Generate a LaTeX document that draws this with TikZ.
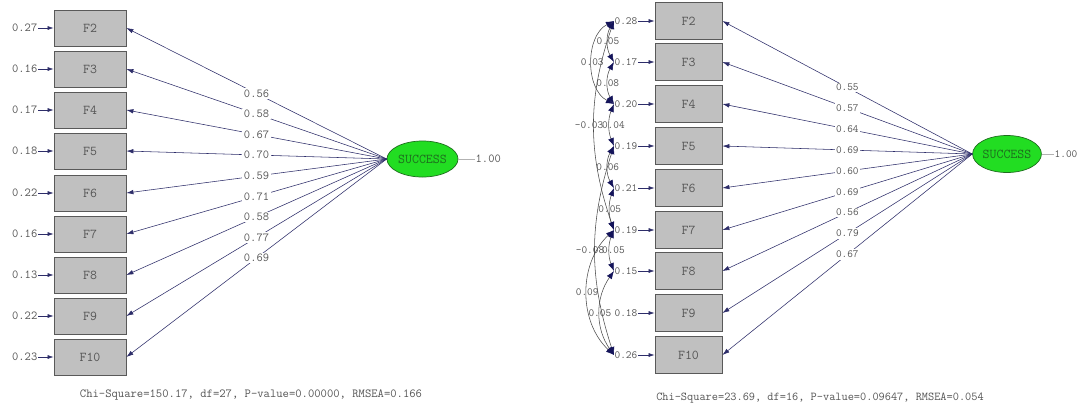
\documentclass[tikz,border=0pt]{standalone}
\usetikzlibrary{shapes.geometric,arrows.meta}
\definecolor{ln}{RGB}{45,45,105}
\definecolor{hd}{RGB}{20,20,90}
\definecolor{tx}{RGB}{85,85,85}
\definecolor{bx}{RGB}{192,192,192}
\definecolor{gr}{RGB}{34,221,34}
\definecolor{grd}{RGB}{30,110,30}
\tikzset{
 obs/.style={draw=black!65, line width=0.8pt, fill=bx, minimum width=72pt, minimum height=36pt, inner sep=0pt, font=\ttfamily\fontsize{13.5}{13.5}\selectfont, text=tx},
 obsr/.style={obs, minimum width=67pt, minimum height=37pt},
 lat/.style={ellipse, draw=grd, line width=0.7pt, fill=gr, minimum width=71pt, minimum height=36pt, inner sep=0pt, font=\ttfamily\fontsize{13.5}{13.5}\selectfont, text=grd},
 num/.style={font=\ttfamily\fontsize{12.2}{12.2}\selectfont, text=tx, inner sep=0.5pt},
 numr/.style={font=\ttfamily\fontsize{11}{11}\selectfont, text=tx, inner sep=0.5pt},
 lbl/.style={num, fill=white, inner sep=1.5pt},
 lblr/.style={numr, fill=white, inner sep=1.5pt},
 clbl/.style={numr, inner sep=0pt},
 load/.style={draw=ln, line width=0.55pt, -{Latex[length=7pt,width=4.5pt]}, color=ln},
 res/.style={draw=ln, line width=0.6pt, -{Latex[length=6pt,width=4pt]}, color=ln},
 cov/.style={draw=black!70, line width=0.55pt, {Latex[length=8pt,width=6pt,color=hd]}-{Latex[length=8pt,width=6pt,color=hd]}},
 var/.style={draw=black!30, line width=0.6pt},
 foot/.style={font=\ttfamily\fontsize{12.3}{12.3}\selectfont, text=tx, inner sep=0pt},
 footr/.style={font=\ttfamily\fontsize{12}{12}\selectfont, text=tx, inner sep=0pt},
}
\begin{document}
\begin{tikzpicture}[x=1pt,y=-1pt]
\useasboundingbox[fill=white] (0,0) rectangle (1078,408);

% ---------------- left model ----------------
\foreach \i/\y/\r in {2/28/0.27,3/69/0.16,4/110/0.17,5/151/0.18,6/193/0.22,7/234/0.16,8/275/0.13,9/316/0.22,10/357/0.23}{
  \node[obs] (a\i) at (90,\y) {F\i};
  \node[num, anchor=east] (ra\i) at (38,\y) {\r};
  \draw[res] (ra\i) -- (a\i);
}
\node[lat] (s1) at (422.5,159) {SUCCESS};
\node[num, anchor=west] (v1) at (475,159) {1.00};
\draw[var] (s1) -- (v1);
\foreach \i/\l in {2/0.56,3/0.58,4/0.67,5/0.70,6/0.59,7/0.71,8/0.58,9/0.77,10/0.69}{
  \draw[load] (s1.west) -- node[lbl]{\l} (a\i.east);
}
\node[foot] (c1) at (251,395) {Chi-Square=150.17, df=27, P-value=0.00000, RMSEA=0.166};

% ---------------- right model ----------------
\foreach \i/\y/\r in {2/21/0.28,3/62/0.17,4/104/0.20,5/146/0.19,6/188/0.21,7/230/0.19,8/271/0.15,9/313/0.18,10/355/0.26}{
  \node[obsr] (b\i) at (688.5,\y) {F\i};
  \node[numr, anchor=east] (rb\i) at (638,\y) {\r};
  \draw[res] (rb\i) -- (b\i);
}
\node[lat, minimum width=68pt, minimum height=37pt] (s2) at (1007,154) {SUCCESS};
\node[numr, anchor=west] (v2) at (1054,154) {1.00};
\draw[var] (s2) -- (v2);
\foreach \i/\l in {2/0.55,3/0.57,4/0.64,5/0.69,6/0.60,7/0.69,8/0.56,9/0.79,10/0.67}{
  \draw[load] (s2.west) -- node[lblr]{\l} (b\i.east);
}
% error covariances
\draw[cov] (rb2.west) to[bend right=30] node[clbl]{0.05} (rb3.west);
\draw[cov] (rb2.west) to[bend right=63] node[clbl]{0.03} (rb4.west);
\draw[cov] (rb3.west) to[bend right=30] node[clbl]{0.08} (rb4.west);
\draw[cov] (rb2.west) to[bend right=19] node[clbl, xshift=-5pt]{-0.03} (rb7.west);
\draw[cov] (rb4.west) to[bend right=22] node[clbl, xshift=4pt]{0.04} (rb5.west);
\draw[cov] (rb5.west) to[bend right=30] node[clbl]{0.06} (rb6.west);
\draw[cov] (rb6.west) to[bend right=20] node[clbl]{0.05} (rb7.west);
\draw[cov] (rb5.west) to[bend right=18] node[clbl, xshift=-5pt]{-0.08} (rb10.west);
\draw[cov] (rb7.west) to[bend right=22] node[clbl, xshift=4pt]{0.05} (rb8.west);
\draw[cov] (rb7.west) to[bend right=47] node[clbl]{0.09} (rb10.west);
\draw[cov] (rb8.west) to[bend right=35] node[clbl]{0.05} (rb10.west);
\node[footr] (c2) at (820,398) {Chi-Square=23.69, df=16, P-value=0.09647, RMSEA=0.054};
\end{tikzpicture}
\end{document}
